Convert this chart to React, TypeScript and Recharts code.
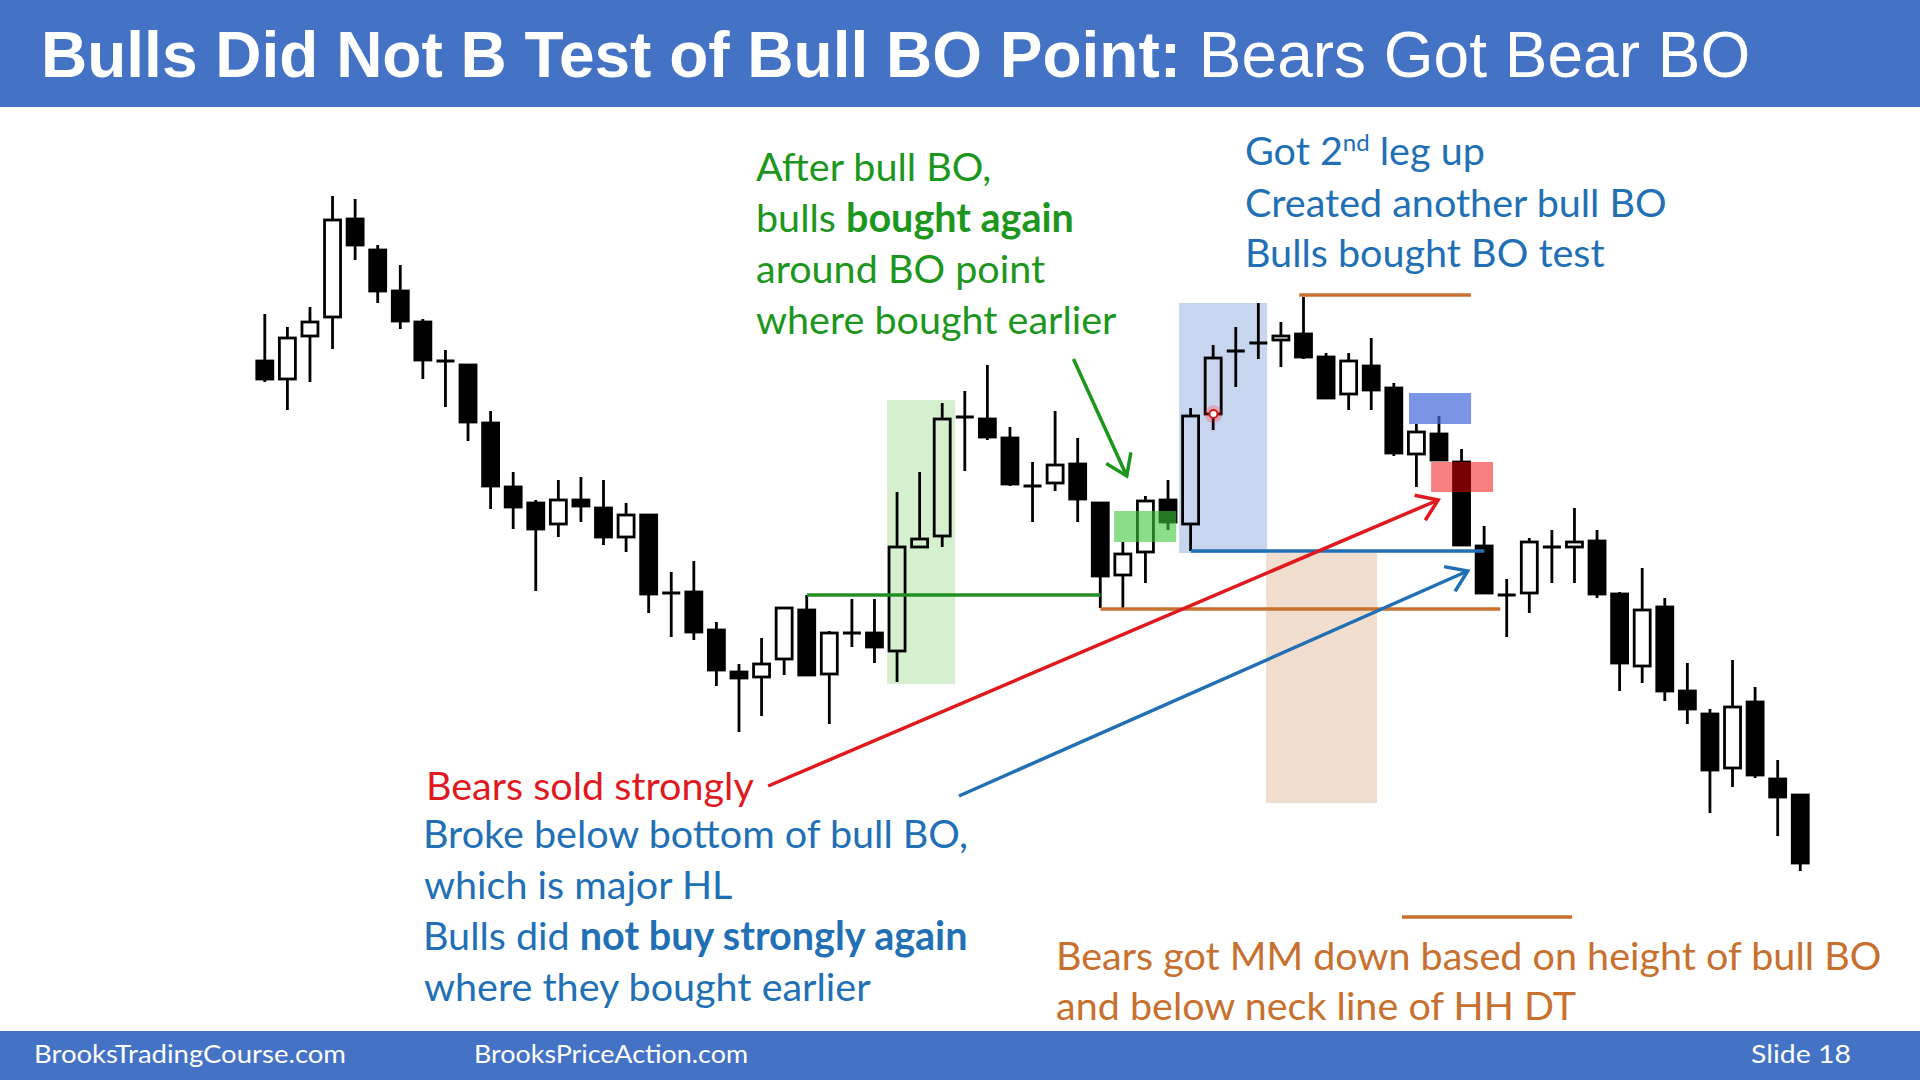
import { ComposedChart, Bar, XAxis, YAxis, ReferenceArea, ReferenceLine, ReferenceDot } from 'recharts';

// candle prices (arbitrary units, larger = higher)
const OPEN = [639, 621, 664, 683, 781, 750, 709, 678, 639, 635, 577, 513, 497, 476, 500, 492, 463, 485, 407, 408, 370, 328, 323, 341, 390, 326, 367, 367, 349, 453, 464, 583, 581, 562, 514, 517, 536, 497, 425, 448, 500, 476, 586, 649, 657, 660, 666, 643, 606, 634, 612, 546, 566, 538, 454, 405, 407, 453, 453, 459, 406, 334, 393, 309, 286, 232, 298, 221, 205];
const HIGH = [686, 673, 693, 804, 801, 755, 735, 681, 650, 635, 589, 528, 500, 520, 523, 520, 497, 485, 428, 439, 378, 336, 362, 392, 405, 369, 401, 401, 508, 528, 597, 609, 635, 573, 538, 589, 562, 497, 458, 504, 520, 592, 655, 673, 697, 678, 703, 647, 647, 662, 617, 576, 584, 551, 474, 421, 462, 470, 492, 470, 408, 432, 402, 337, 291, 340, 313, 240, 205];
const LOW = [618, 590, 618, 651, 740, 697, 671, 621, 593, 559, 491, 471, 409, 463, 478, 455, 448, 387, 363, 360, 314, 268, 284, 325, 325, 276, 353, 337, 318, 453, 453, 529, 560, 514, 478, 509, 478, 392, 392, 417, 470, 449, 570, 613, 641, 633, 641, 602, 590, 590, 544, 513, 540, 455, 407, 363, 387, 417, 417, 402, 309, 317, 299, 276, 187, 213, 222, 164, 129];
const CLOSE = [621, 662, 678, 780, 755, 709, 679, 640, 639, 578, 514, 493, 471, 500, 494, 463, 485, 406, 407, 368, 330, 322, 336, 392, 325, 367, 367, 353, 453, 461, 581, 583, 563, 516, 514, 535, 501, 424, 446, 499, 478, 584, 642, 649, 657, 664, 643, 602, 639, 610, 547, 568, 540, 455, 407, 405, 458, 453, 458, 406, 337, 390, 309, 291, 230, 293, 225, 203, 137];

const candles = OPEN.map((o, i) => ({ i, o, h: HIGH[i], l: LOW[i], c: CLOSE[i], range: [LOW[i], HIGH[i]] }));

// axis domains so one bar = one slot across the slide
const X_DOMAIN = [-11.74, 73.29];
const Y_DOMAIN = [-80, 1000];

const GREEN = '#1c961c';
const BLUE = '#216fb5';
const RED = '#e0191f';
const ORANGE = '#c8702e';

const Candle = (props: any) => {
  const { x, y, width, height, payload } = props;
  const { o, h, l, c } = payload;
  const cx = x + width / 2;
  const k = height / (h - l);
  const py = (v: number) => y + (h - v) * k;
  const top = py(Math.max(o, c));
  const bot = py(Math.min(o, c));
  const bw = 16;
  if (o === c) {
    return (
      <g stroke="#000" strokeWidth={2.8}>
        <line x1={cx} x2={cx} y1={y} y2={y + height} />
        <line x1={cx - bw / 2 - 1} x2={cx + bw / 2 + 1} y1={top} y2={top} strokeWidth={3} />
      </g>
    );
  }
  return (
    <g stroke="#000" strokeWidth={2.8}>
      {top > y && <line x1={cx} x2={cx} y1={y} y2={top} />}
      {y + height > bot && <line x1={cx} x2={cx} y1={bot} y2={y + height} />}
      <rect x={cx - bw / 2} y={top} width={bw} height={bot - top} fill={c > o ? 'none' : '#000'} />
    </g>
  );
};

const arrow = (color: string) => (props: any) => {
  const { x1, y1, x2, y2 } = props;
  const a = Math.atan2(y2 - y1, x2 - x1);
  const len = 24;
  const s = 0.6;
  const p1 = [x2 - len * Math.cos(a - s), y2 - len * Math.sin(a - s)];
  const p2 = [x2 - len * Math.cos(a + s), y2 - len * Math.sin(a + s)];
  return (
    <g stroke={color} strokeWidth={3.5} fill="none">
      <line x1={x1} y1={y1} x2={x2} y2={y2} />
      <polyline points={`${p1[0]},${p1[1]} ${x2},${y2} ${p2[0]},${p2[1]}`} strokeLinejoin="miter" />
    </g>
  );
};

const TXT = { fontFamily: 'Lato, sans-serif', fontSize: 39.5 };

export default function App() {
  return (
    <div style={{ position: 'absolute', left: 0, top: 0, width: 1920, height: 1080, background: '#fff', overflow: 'hidden' }}>
      <ComposedChart width={1920} height={1080} data={candles} margin={{ top: 0, right: 0, bottom: 0, left: 0 }}>
        <XAxis dataKey="i" type="number" domain={X_DOMAIN} hide allowDataOverflow />
        <YAxis type="number" domain={Y_DOMAIN} hide allowDataOverflow />

        {/* background zones */}
        <ReferenceArea x1={27.55} x2={30.56} y1={316} y2={600} fill="#d4f0cf" fillOpacity={1} stroke="none" />
        <ReferenceArea x1={40.48} x2={44.38} y1={447} y2={697} fill="#c8d5ee" fillOpacity={1} stroke="none" />
        <ReferenceArea x1={44.33} x2={49.25} y1={197} y2={447} fill="#f2dece" fillOpacity={1} stroke="none" />

        <Bar dataKey="range" barSize={18} shape={Candle} isAnimationActive={false} />

        {/* breakout levels */}
        <ReferenceLine segment={[{ x: 24, y: 405 }, { x: 37, y: 405 }]} stroke="#238f23" strokeWidth={3.5} />
        <ReferenceLine segment={[{ x: 41, y: 449 }, { x: 54, y: 449 }]} stroke={BLUE} strokeWidth={3.5} />
        <ReferenceLine segment={[{ x: 37, y: 391 }, { x: 54.7, y: 391 }]} stroke={ORANGE} strokeWidth={3.5} />
        <ReferenceLine segment={[{ x: 45.8, y: 705 }, { x: 53.4, y: 705 }]} stroke={ORANGE} strokeWidth={3.5} />
        <ReferenceLine segment={[{ x: 50.35, y: 83 }, { x: 57.88, y: 83 }]} stroke={ORANGE} strokeWidth={3.5} />

        {/* highlighted bars */}
        <ReferenceArea x1={37.6} x2={40.35} y1={458} y2={489} fill="#3cc83c" fillOpacity={0.6} stroke="none" zIndex={450} />
        <ReferenceArea x1={50.66} x2={53.41} y1={576} y2={607} fill="#4466d8" fillOpacity={0.7} stroke="none" zIndex={450} />
        <ReferenceArea x1={51.64} x2={54.38} y1={508} y2={538} fill="#f00000" fillOpacity={0.5} stroke="none" zIndex={450} />

        {/* arrows */}
        <ReferenceLine segment={[{ x: 35.8, y: 641 }, { x: 38.16, y: 524 }]} shape={arrow('#1c961c')} />
        <ReferenceLine segment={[{ x: 22.28, y: 214 }, { x: 51.95, y: 500 }]} shape={arrow(RED)} />
        <ReferenceLine segment={[{ x: 30.73, y: 204 }, { x: 53.26, y: 429 }]} shape={arrow(BLUE)} />

        <ReferenceDot x={42} y={586} r={9} fill="#ff3030" fillOpacity={0.25} stroke="none" />
        <ReferenceDot x={42} y={586} r={4} fill="#fff" stroke="#e01818" strokeWidth={2} />
      </ComposedChart>

      <svg width={1920} height={1080} style={{ position: 'absolute', left: 0, top: 0, pointerEvents: 'none' }}>
        <rect x={0} y={0} width={1920} height={107} fill="#4472c4" />
        <text x={41} y={77} fill="#fff" fontFamily="'Liberation Sans', Arial, sans-serif" fontSize={64}>
          <tspan fontWeight="bold">Bulls Did Not B Test of Bull BO Point:</tspan>
          <tspan> Bears Got Bear BO</tspan>
        </text>

        <rect x={0} y={1031} width={1920} height={49} fill="#4472c4" />
        <g fill="#fff" fontFamily="Lato, sans-serif" fontSize={25}>
          <text x={34} y={1063} textLength={312} lengthAdjust="spacingAndGlyphs">BrooksTradingCourse.com</text>
          <text x={474} y={1063} textLength={274} lengthAdjust="spacingAndGlyphs">BrooksPriceAction.com</text>
          <text x={1751} y={1063} textLength={100} lengthAdjust="spacingAndGlyphs">Slide 18</text>
        </g>

        <g fill={GREEN} {...TXT}>
          <text x={756} y={181}>After bull BO,</text>
          <text x={756} y={232}>bulls <tspan fontWeight="bold">bought again</tspan></text>
          <text x={756} y={283}>around BO point</text>
          <text x={756} y={334}>where bought earlier</text>
        </g>

        <g fill={BLUE} {...TXT}>
          <text x={1245} y={165}>Got 2<tspan fontSize={24} dy={-14}>nd</tspan><tspan dy={14}> leg up</tspan></text>
          <text x={1245} y={217}>Created another bull BO</text>
          <text x={1245} y={267}>Bulls bought BO test</text>
        </g>

        <text x={426} y={800} fill={RED} {...TXT}>Bears sold strongly</text>
        <g fill={BLUE} {...TXT}>
          <text x={423} y={848}>Broke below bottom of bull BO,</text>
          <text x={424} y={899}>which is major HL</text>
          <text x={423} y={950}>Bulls did <tspan fontWeight="bold">not buy strongly again</tspan></text>
          <text x={424} y={1001}>where they bought earlier</text>
        </g>

        <g fill={ORANGE} {...TXT}>
          <text x={1056} y={970}>Bears got MM down based on height of bull BO</text>
          <text x={1056} y={1020}>and below neck line of HH DT</text>
        </g>
      </svg>
    </div>
  );
}
